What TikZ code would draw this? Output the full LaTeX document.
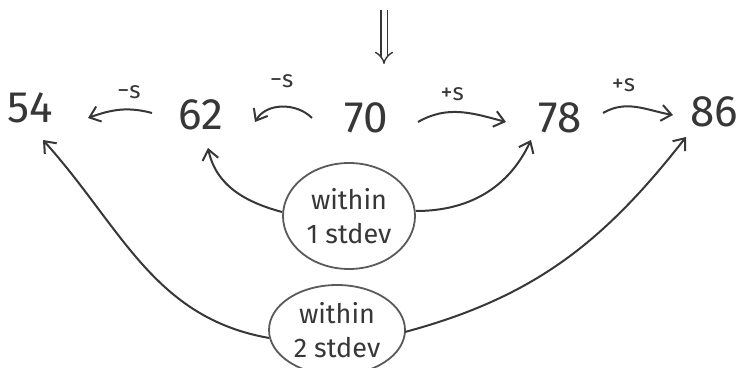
\documentclass[tikz,border=0pt]{standalone}
\usepackage{fontspec}
\setmainfont{Fira Sans}
\usetikzlibrary{arrows.meta,shapes.geometric,calc}
\definecolor{pencil}{RGB}{55,55,55}
\definecolor{pencilb}{RGB}{90,90,90}
\tikzset{
  num/.style={inner sep=0pt,text=pencil,font=\fontsize{22}{26}\selectfont},
  lbl/.style={inner sep=1pt,text=pencil,font=\fontsize{12}{14}\selectfont},
  arr/.style={draw=pencil,line width=1pt,-{Straight Barb[length=5pt,width=8pt]}},
  blob/.style={ellipse,draw=pencilb,line width=0.9pt,inner sep=0pt,text=pencil,
    align=center,font=\fontsize{13.5}{17}\selectfont},
}
\begin{document}
\begin{tikzpicture}[x=0.5pt,y=-0.5pt]
\useasboundingbox (0,0) rectangle (738,368);
\clip (0,0) rectangle (738,368);
% numbers
\node[num] (n54) at (30,108) {54};
\node[num] (n62) at (201,115) {62};
\node[num] (n70) at (366,118) {70};
\node[num] (n78) at (560,118) {78};
\node[num] (n86) at (714,112) {86};
% implies arrow
\coordinate (dtop) at (384,10);
\coordinate (dbot) at (384,64);
\draw[draw=pencil,line width=0.7pt,double,double distance=2.5pt,-{Implies[length=5pt]}] (dtop) -- (dbot);
% step arrows
\draw[arr] ($(n62)+(-49,-2)$) to[out=165,in=20] node[lbl,above=4pt,pos=0.35] {−s} ($(n54)+(58,10)$);
\draw[arr] ($(n70)+(-54,0)$) to[out=135,in=60] node[lbl,above=8pt,pos=0.5] {−s} ($(n62)+(54,7)$);
\draw[arr] ($(n70)+(52,4)$) to[out=30,in=165] node[lbl,above=4pt,pos=0.4] {+s} ($(n78)+(-54,4)$);
\draw[arr] ($(n78)+(43,-5)$) to[out=30,in=170] node[lbl,above=6pt,pos=0.3] {+s} ($(n86)+(-41,3)$);
% ellipses
\node[blob,minimum width=66pt,minimum height=53pt] (e1) at (349,216) {within\\1 stdev};
\node[blob,minimum width=68pt,minimum height=45pt] (e2) at (337,330) {within\\2 stdev};
% connectors from ellipses
\draw[arr] ($(e1.west)+(0,-4)$) to[out=165,in=-78] ($(n62)+(7,33)$);
\draw[arr] ($(e1.east)+(0,-5)$) to[out=0,in=-115] ($(n78)+(-29,22)$);
\draw[arr] ($(e2.west)+(1,8)$) to[out=170,in=-48] ($(n54)+(13,32)$);
\draw[arr] ($(e2.east)+(-1,2)$) to[out=15,in=-128] ($(n86)+(-28,25)$);
\end{tikzpicture}
\end{document}
